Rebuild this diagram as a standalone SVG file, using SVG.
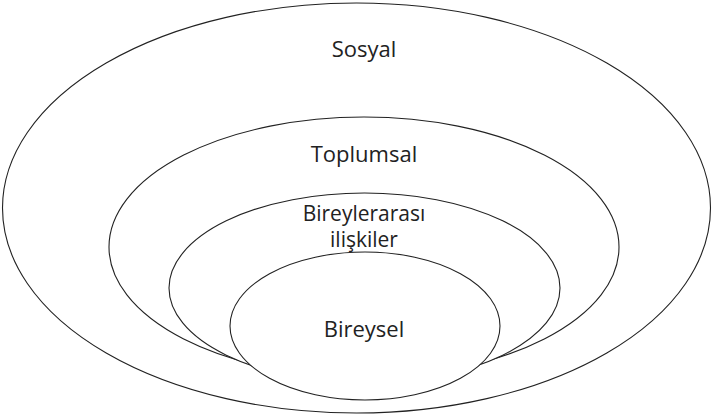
<svg xmlns="http://www.w3.org/2000/svg" width="713" height="417" viewBox="0 0 713 417">
<style>
.e{fill:#fff;stroke:#222;stroke-width:1.1}
.t{font-family:"Open Sans","Liberation Sans",sans-serif;font-size:22px;fill:#222;text-anchor:middle}
.s{font-size:21px}
</style>
<rect width="713" height="417" fill="#fff"/>
<g id="sosyal"><ellipse class="e" cx="356.5" cy="208" rx="354" ry="205"/><text class="t" x="364" y="57">Sosyal</text></g>
<g id="toplumsal"><ellipse class="e" cx="364" cy="247" rx="255" ry="130"/><text class="t" x="364" y="162">Toplumsal</text></g>
<g id="bireylerarasi"><ellipse class="e" cx="364.5" cy="288" rx="195.5" ry="95"/><text class="t s" x="364" y="221">Bireylerarası</text><text class="t s" x="364" y="247">ilişkiler</text></g>
<g id="bireysel"><ellipse class="e" cx="365" cy="326" rx="135" ry="74"/><text class="t" x="364" y="337">Bireysel</text></g>
</svg>
